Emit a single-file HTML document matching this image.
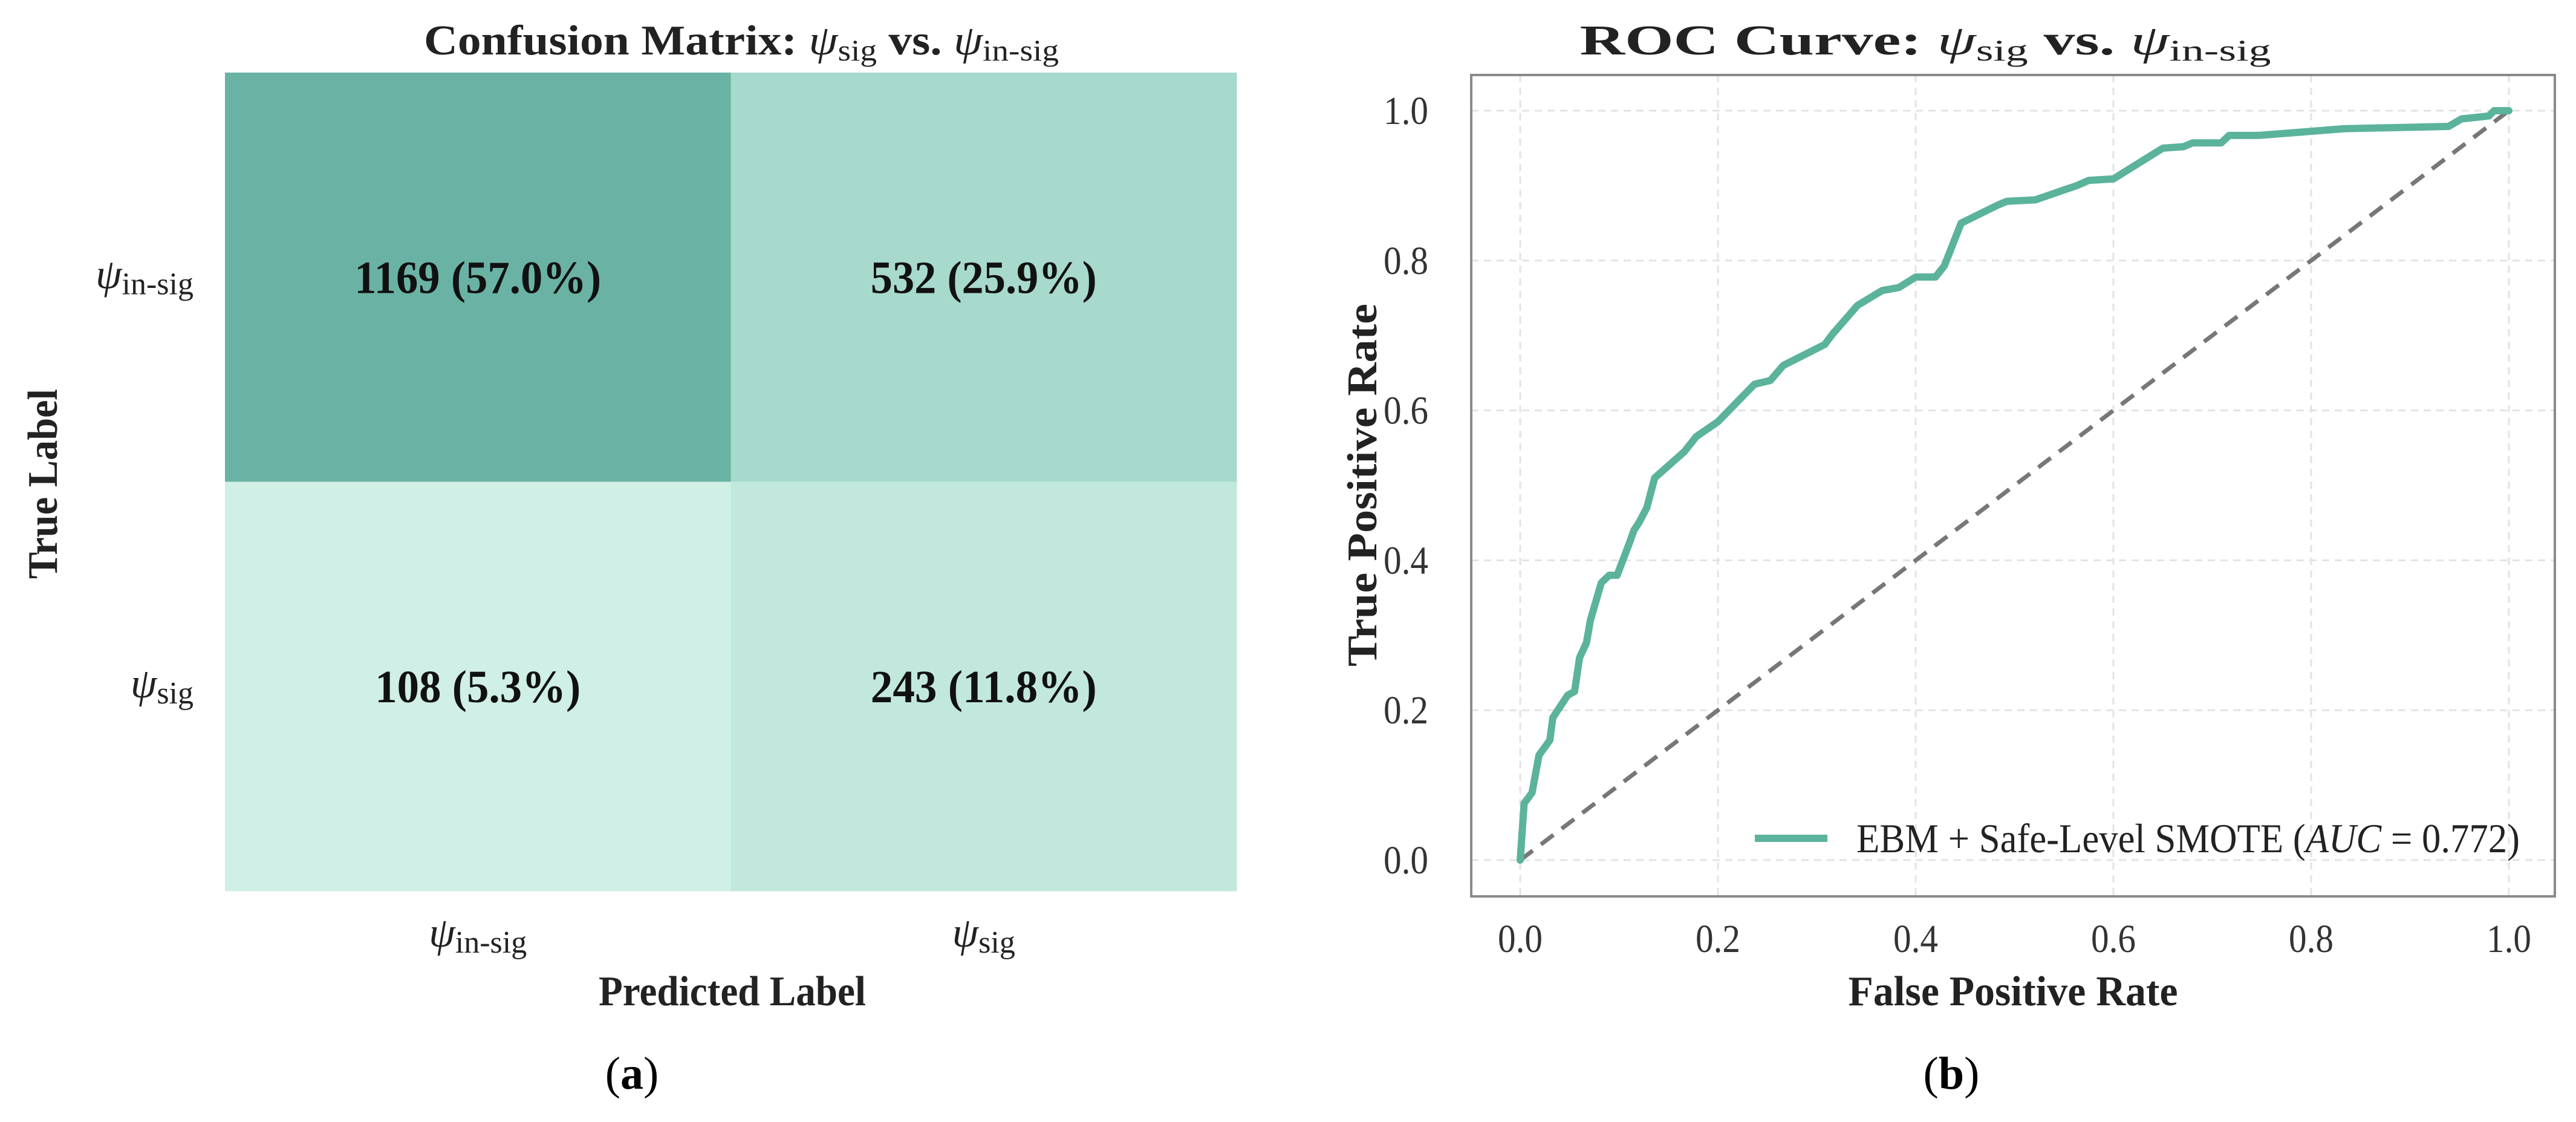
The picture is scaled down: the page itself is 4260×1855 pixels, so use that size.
<!DOCTYPE html>
<html><head><meta charset="utf-8"><style>
html,body{margin:0;padding:0;background:#fff;}
svg{display:block;font-family:"Liberation Serif",serif;}
</style></head><body>
<svg id="fig" width="4260" height="1855" viewBox="0 0 4260 1855" xmlns="http://www.w3.org/2000/svg">
<g id="cm">
  <text x="1226" y="90" text-anchor="middle" font-size="70" font-weight="bold" fill="#222" textLength="1050" lengthAdjust="spacingAndGlyphs">Confusion Matrix: <tspan font-weight="normal" font-style="italic">ψ</tspan><tspan font-weight="normal" font-size="50" dy="10">sig</tspan><tspan dy="-10"> vs. </tspan><tspan font-weight="normal" font-style="italic">ψ</tspan><tspan font-weight="normal" font-size="50" dy="10">in-sig</tspan></text>
  <g id="cells"></g>
  <g id="cmlabels"></g>
  <text x="1211" y="1662" text-anchor="middle" font-size="70" font-weight="bold" fill="#222" textLength="442" lengthAdjust="spacingAndGlyphs">Predicted Label</text>
  <text transform="translate(94,800) rotate(-90)" text-anchor="middle" font-size="70" font-weight="bold" fill="#222" textLength="314" lengthAdjust="spacingAndGlyphs">True Label</text>
  <text x="1045" y="1800" text-anchor="middle" font-size="76" fill="#000">(<tspan font-weight="bold">a</tspan>)</text>
</g>
<g id="roc">
  <text x="3184" y="90" text-anchor="middle" font-size="70" font-weight="bold" fill="#222" textLength="1143" lengthAdjust="spacingAndGlyphs">ROC Curve: <tspan font-weight="normal" font-style="italic">ψ</tspan><tspan font-weight="normal" font-size="50" dy="10">sig</tspan><tspan dy="-10"> vs. </tspan><tspan font-weight="normal" font-style="italic">ψ</tspan><tspan font-weight="normal" font-size="50" dy="10">in-sig</tspan></text>
  <g id="grid"></g>
  <g id="ticks"></g>
  <line id="diag" stroke="#777" stroke-width="7" stroke-dasharray="26,17"/>
  <polyline id="curve" fill="none" stroke="#5bb39b" stroke-width="12" stroke-linejoin="round" stroke-linecap="round"/>
  <rect x="2433" y="124" width="1792" height="1358" fill="none" stroke="#8a8a8a" stroke-width="4"/>
  <line x1="2902" y1="1386" x2="3022" y2="1386" stroke="#5bb39b" stroke-width="12"/>
  <text x="3070" y="1409" font-size="68" fill="#222" textLength="1097" lengthAdjust="spacingAndGlyphs">EBM + Safe-Level SMOTE (<tspan font-style="italic">AUC</tspan> = 0.772)</text>
  <text x="3329" y="1662" text-anchor="middle" font-size="70" font-weight="bold" fill="#222" textLength="545" lengthAdjust="spacingAndGlyphs">False Positive Rate</text>
  <text transform="translate(2276,802) rotate(-90)" text-anchor="middle" font-size="70" font-weight="bold" fill="#222" textLength="600" lengthAdjust="spacingAndGlyphs">True Positive Rate</text>
  <text x="3227" y="1800" text-anchor="middle" font-size="76" fill="#000">(<tspan font-weight="bold">b</tspan>)</text>
</g>
</svg>
<script>
const cmCounts = [[1169, 532],[108, 243]];
const cmPcts = ["57.0","25.9","5.3","11.8"];
const cmClasses = ["in-sig","sig"];
const cmColors = [["#6ab3a4","#a7d9cd"],["#d0efe6","#c2e8de"]];
const rocFpr = [0,0.004,0.007,0.012,0.019,0.03,0.033,0.048,0.055,0.06,0.067,0.071,0.082,0.09,0.098,0.111,0.115,0.12,0.128,0.136,0.166,0.178,0.2,0.237,0.253,0.266,0.308,0.316,0.341,0.366,0.383,0.4,0.42,0.429,0.446,0.483,0.492,0.521,0.554,0.563,0.575,0.6,0.65,0.671,0.68,0.709,0.717,0.747,0.834,0.939,0.952,0.98,0.985,1];
const rocTpr = [0,0.076,0.081,0.09,0.14,0.16,0.19,0.22,0.225,0.27,0.29,0.32,0.37,0.38,0.38,0.425,0.44,0.45,0.47,0.51,0.545,0.565,0.585,0.635,0.64,0.66,0.688,0.702,0.74,0.76,0.764,0.778,0.778,0.793,0.85,0.874,0.879,0.881,0.896,0.9,0.907,0.909,0.95,0.952,0.957,0.957,0.967,0.967,0.976,0.979,0.989,0.993,1,1];
const rocTicks = [0,0.2,0.4,0.6,0.8,1.0];
const rocTickLabels = ["0.0","0.2","0.4","0.6","0.8","1.0"];

const NS="http://www.w3.org/2000/svg";
function mk(tag, attrs, parent){const e=document.createElementNS(NS,tag);for(const k in attrs)e.setAttribute(k,attrs[k]);parent.appendChild(e);return e;}
const cmX0=372, cmX1=2045, cmY0=120, cmY1=1473;
const cw=(cmX1-cmX0)/cmClasses.length, ch=(cmY1-cmY0)/cmClasses.length;
const cells=document.getElementById('cells');
for(let r=0;r<2;r++)for(let c=0;c<2;c++){
  const rc=mk('rect',{x:cmX0+c*cw,y:cmY0+r*ch,width:cw+0.5,height:ch+0.5,fill:cmColors[r][c]},cells);
  
  
  const label=cmCounts[r][c]+" ("+cmPcts[r*2+c]+"%)";
  const t=mk('text',{x:cmX0+(c+0.5)*cw,y:cmY0+(r+0.5)*ch+26,'text-anchor':'middle','font-size':76,'font-weight':'bold',fill:'#111',textLength:label.length*34,lengthAdjust:'spacingAndGlyphs'},cells);
  t.textContent=label;
  
  
}
const cml=document.getElementById('cmlabels');
function psi(parent,x,y,sub,anchor,name){
  const t=mk('text',{x:x,y:y,'text-anchor':anchor,'font-size':70,fill:'#222'},parent);
  t.innerHTML='<tspan font-style="italic">ψ</tspan><tspan font-size="52" dy="10">'+sub+'</tspan>';
  
  
}
cmClasses.forEach((s,i)=>{
  psi(cml,320,cmY0+(i+0.5)*ch+18,s,'end','y-tick-label');
  psi(cml,cmX0+(i+0.5)*cw,1565,s,'middle','x-tick-label');
});
const px0=2514, px1=4149, py0=1422, py1=183;
const sx=v=>px0+v*(px1-px0), sy=v=>py0+v*(py1-py0);
const grid=document.getElementById('grid'), ticks=document.getElementById('ticks');
rocTicks.forEach((v,i)=>{
  const gv=mk('line',{x1:sx(v),x2:sx(v),y1:124,y2:1482,stroke:'#e3e3e3','stroke-width':3,'stroke-dasharray':'12,9'},grid);
  
  
  const gh=mk('line',{x1:2433,x2:4225,y1:sy(v),y2:sy(v),stroke:'#e3e3e3','stroke-width':3,'stroke-dasharray':'12,9'},grid);
  
  
  const tx=mk('text',{x:sx(v),y:1574,'text-anchor':'middle','font-size':66,fill:'#333',textLength:74,lengthAdjust:'spacingAndGlyphs'},ticks);
  tx.textContent=rocTickLabels[i];
  
  
  const ty=mk('text',{x:2362,y:sy(v)+22,'text-anchor':'end','font-size':66,fill:'#333',textLength:74,lengthAdjust:'spacingAndGlyphs'},ticks);
  ty.textContent=rocTickLabels[i];
  
  
});
const d=document.getElementById('diag');
d.setAttribute('x1',sx(0));d.setAttribute('y1',sy(0));d.setAttribute('x2',sx(1));d.setAttribute('y2',sy(1));
document.getElementById('curve').setAttribute('points',rocFpr.map((f,i)=>sx(f)+','+sy(rocTpr[i])).join(' '));
</script>
</body></html>
